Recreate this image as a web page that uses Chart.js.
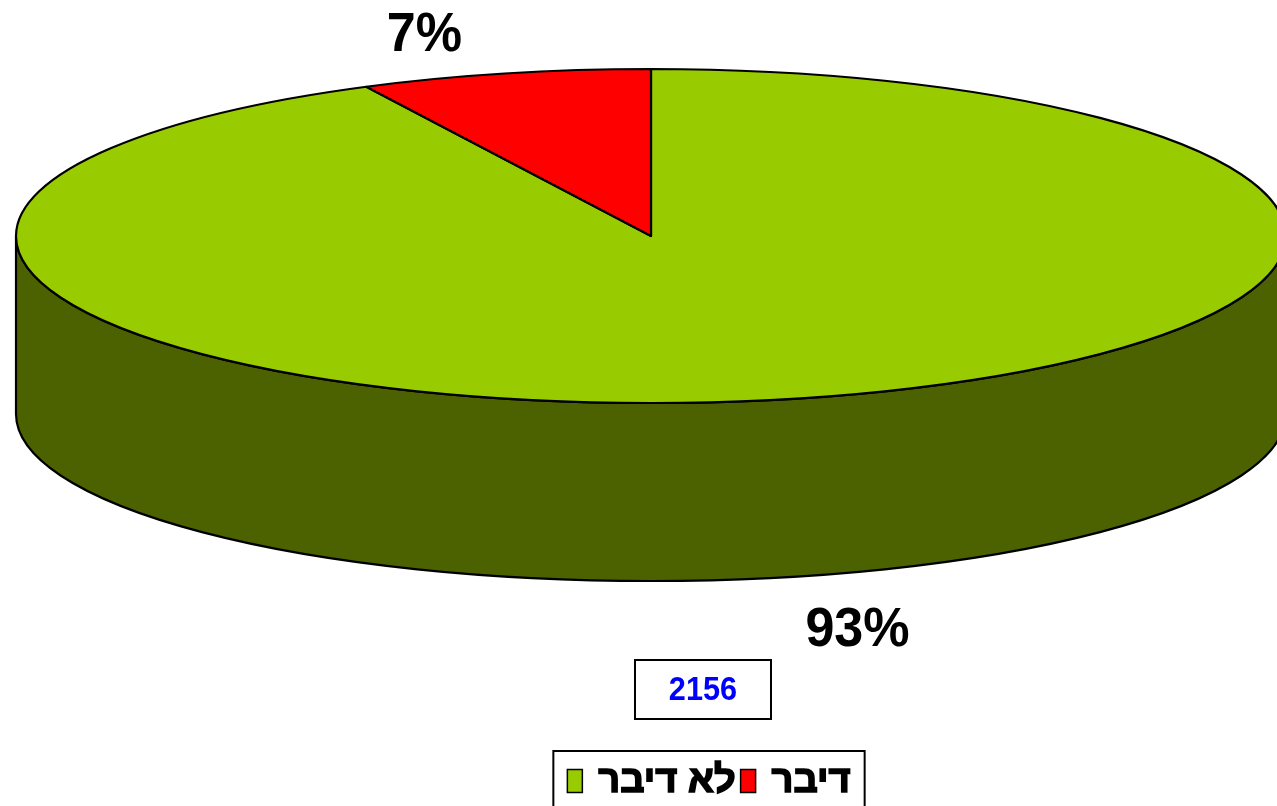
<!DOCTYPE html>
<html>
<head>
<meta charset="utf-8">
<script src="https://cdn.jsdelivr.net/npm/chart.js@4/dist/chart.umd.min.js"></script>
<style>
  html, body { margin: 0; padding: 0; background: #fff; overflow: hidden; }
  #wrap { width: 1277px; height: 806px; overflow: hidden; }
</style>
</head>
<body>
<div id="wrap"><canvas id="grafico" width="1286" height="806"></canvas></div>
<script>
// ── datos ──
const categorias = ['לא דיבר', 'דיבר'];
const valores    = [92.6, 7.4];
const coloresTop  = ['#99CC00', '#FF0000'];
const coloresLado = ['#4C6200', '#800000'];
const totalN = '2156';

// ── geometría del pastel 3D ──
const INCLINACION = 0.263;   // ry / rx
const PROFUNDIDAD = 178;     // alto del costado
const SQX = 0.93;            // compresión horizontal del texto
const FUENTE = '"Liberation Sans", Arial, sans-serif';

function geometria(chart) {
    const a = chart.chartArea;
    const rx = (a.right - a.left) / 2;
    return { cx: (a.left + a.right) / 2, cy: a.top + rx * INCLINACION, rx, ry: rx * INCLINACION };
}

function textoComprimido(ctx, txt, x, y, sx = SQX, grosor = 0) {
    ctx.save();
    ctx.translate(x, y);
    ctx.scale(sx, 1);
    ctx.fillText(txt, 0, 0);
    if (grosor) {
        ctx.lineWidth = grosor;
        ctx.strokeStyle = ctx.fillStyle;
        ctx.strokeText(txt, 0, 0);
    }
    ctx.restore();
}

const pastel3D = {
    id: 'pastel3D',
    beforeDatasetsDraw(chart) {
        const ctx = chart.ctx;
        const g = geometria(chart);
        const arcos = chart.getDatasetMeta(0).data;
        ctx.save();
        ctx.lineWidth = 2.2;
        ctx.strokeStyle = '#000';
        ctx.lineJoin = 'round';

        // costados visibles (mitad frontal)
        arcos.forEach((arc, i) => {
            for (let k = -1; k <= 1; k++) {
                const a = Math.max(arc.startAngle, 2 * Math.PI * k);
                const b = Math.min(arc.endAngle, 2 * Math.PI * k + Math.PI);
                if (b <= a) continue;
                ctx.beginPath();
                ctx.ellipse(g.cx, g.cy, g.rx, g.ry, 0, a, b);
                ctx.ellipse(g.cx, g.cy + PROFUNDIDAD, g.rx, g.ry, 0, b, a, true);
                ctx.closePath();
                ctx.fillStyle = coloresLado[i];
                ctx.fill();
                ctx.stroke();
            }
        });

        // tapa
        arcos.forEach((arc, i) => {
            ctx.beginPath();
            ctx.moveTo(g.cx, g.cy);
            ctx.ellipse(g.cx, g.cy, g.rx, g.ry, 0, arc.startAngle, arc.endAngle);
            ctx.closePath();
            ctx.fillStyle = coloresTop[i];
            ctx.fill();
            ctx.stroke();
        });
        ctx.restore();
        return false;
    },
    afterDraw(chart) {
        const ctx = chart.ctx;
        const g = geometria(chart);
        const arcos = chart.getDatasetMeta(0).data;
        const total = valores.reduce((s, v) => s + v, 0);

        // etiquetas de porcentaje
        ctx.save();
        ctx.fillStyle = '#000';
        ctx.font = 'bold 56px ' + FUENTE;
        ctx.textAlign = 'center';
        ctx.textBaseline = 'middle';
        arcos.forEach((arc, i) => {
            const medio = (arc.startAngle + arc.endAngle) / 2;
            const s = Math.sin(medio);
            const x = g.cx - 10 + g.rx * Math.cos(medio) * 1.48;
            const y = g.cy + g.ry * s * 1.234 + (s > 0 ? PROFUNDIDAD + 16 : 0);
            textoComprimido(ctx, Math.round(valores[i] / total * 100) + '%', x, y);
        });

        // recuadro con N
        ctx.lineWidth = 2;
        ctx.strokeStyle = '#000';
        ctx.strokeRect(635, 660, 136, 59);
        ctx.fillStyle = '#0000FF';
        ctx.font = 'bold 33px ' + FUENTE;
        textoComprimido(ctx, totalN, 703, 691);

        // leyenda con marco
        ctx.font = 'bold 38px ' + FUENTE;
        ctx.textAlign = 'left';
        const caja = { w: 15, h: 23 }, sep = 16, entre = 5, yc = 781;
        const anchos = categorias.map(c => ctx.measureText(c).width);
        const anchoTotal = anchos.reduce((s, w) => s + w + caja.w + sep, 0) + entre * (categorias.length - 1);
        let x = 709 - anchoTotal / 2;
        ctx.lineWidth = 2;
        ctx.strokeRect(x - 14, 751, anchoTotal + 28, 80);
        categorias.forEach((c, i) => {
            ctx.fillStyle = coloresTop[i];
            ctx.fillRect(x, yc - caja.h / 2, caja.w, caja.h);
            ctx.lineWidth = 1.5;
            ctx.strokeStyle = '#000';
            ctx.strokeRect(x, yc - caja.h / 2, caja.w, caja.h);
            x += caja.w + sep;
            ctx.fillStyle = '#000';
            textoComprimido(ctx, c, x, yc + 1, 1, 1.6);
            x += anchos[i] + entre;
        });
        ctx.restore();
    }
};

new Chart(document.getElementById('grafico'), {
    type: 'pie',
    data: {
        labels: categorias,
        datasets: [{
            data: valores,
            backgroundColor: coloresTop,
            borderColor: '#000',
            borderWidth: 2
        }]
    },
    options: {
        responsive: false,
        animation: false,
        rotation: 0,
        layout: { padding: { left: 16, right: 0, top: 69, bottom: 0 } },
        plugins: {
            legend: { display: false },
            tooltip: { enabled: false }
        }
    },
    plugins: [pastel3D]
});
</script>
</body>
</html>
